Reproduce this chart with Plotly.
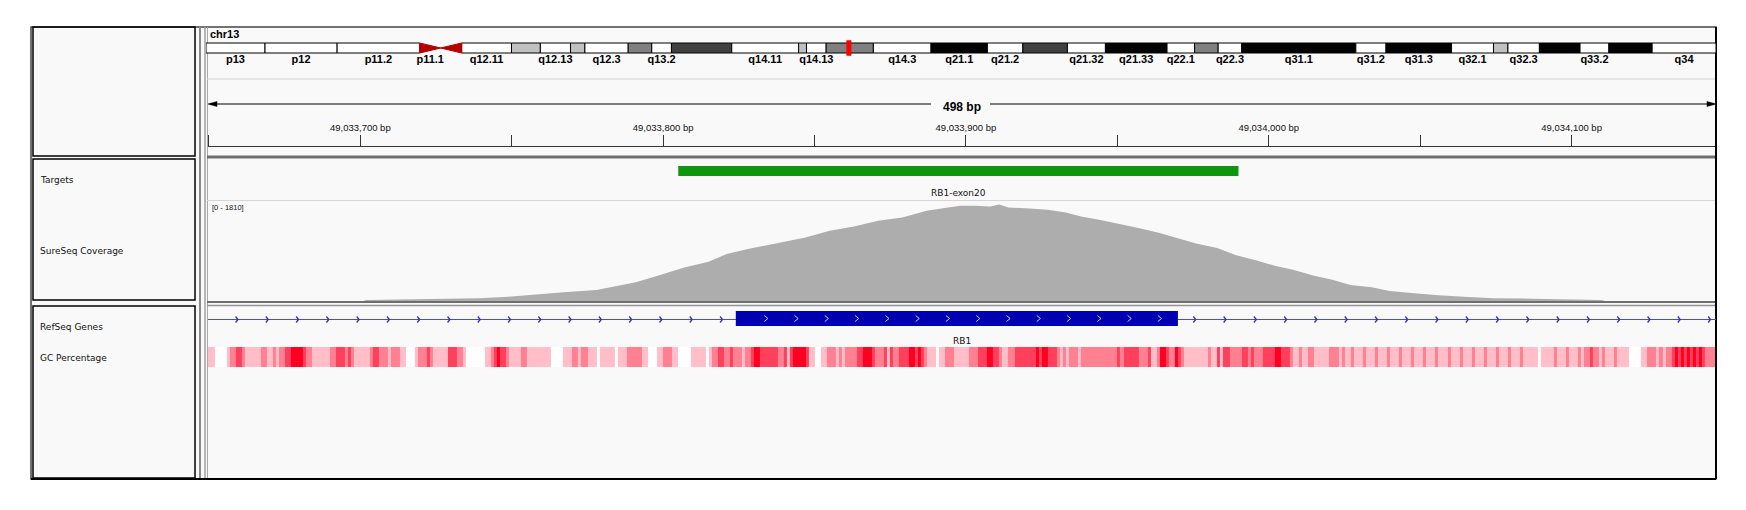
import plotly.graph_objects as go

W, H = 1746, 510

# ---- locus ----
chrom = "chr13"
chrom_len_mb = 115.169878
view_start = 49033649.7
view_end = 49034147.7

# ---- cytobands (Mb) ----
band_name = ["p13", "p12", "p11.2", "p11.1", "q11", "q12.11", "q12.12", "q12.13", "q12.2", "q12.3",
             "q13.1", "q13.2", "q13.3", "q14.11", "q14.12", "q14.13", "q14.2", "q14.3", "q21.1", "q21.2",
             "q21.31", "q21.32", "q21.33", "q22.1", "q22.2", "q22.3", "q31.1", "q31.2", "q31.3", "q32.1",
             "q32.2", "q32.3", "q33.1", "q33.2", "q33.3", "q34"]
band_start = [0.0, 4.5, 10.0, 16.3, 17.9, 19.5, 23.3, 25.5, 27.8, 28.9,
              32.2, 34.0, 35.5, 40.1, 45.2, 45.8, 47.3, 50.9, 55.3, 59.6,
              62.3, 65.7, 68.6, 73.3, 75.4, 77.2, 79.0, 87.7, 90.0, 95.0,
              98.2, 99.3, 101.7, 104.8, 107.0, 110.3]
band_stain = ["gvar", "stalk", "gvar", "acen", "acen", "gneg", "gpos25", "gneg", "gpos25", "gneg",
              "gpos50", "gneg", "gpos75", "gneg", "gpos25", "gneg", "gpos50", "gneg", "gpos100", "gneg",
              "gpos75", "gneg", "gpos100", "gneg", "gpos50", "gneg", "gpos100", "gneg", "gpos100", "gneg",
              "gpos25", "gneg", "gpos100", "gneg", "gpos100", "gneg"]
band_labels_shown = ["p13", "p12", "p11.2", "p11.1", "q12.11", "q12.13", "q12.3", "q13.2", "q14.11",
                     "q14.13", "q14.3", "q21.1", "q21.2", "q21.32", "q21.33", "q22.1", "q22.3", "q31.1",
                     "q31.2", "q31.3", "q32.1", "q32.3", "q33.2", "q34"]
band_end = band_start[1:] + [chrom_len_mb]

# ---- ruler ----
tick_pos = list(range(49033650, 49034150, 50))

# ---- targets ----
target_name = "RB1-exon20"
target_start = 49033805
target_end = 49033990

# ---- coverage ----
cov_max = 1810
cov_pos = [49033650, 49033701, 49033702, 49033729, 49033739, 49033749, 49033759, 49033767, 49033778,
           49033785, 49033791, 49033799, 49033807, 49033815, 49033821, 49033828, 49033839, 49033847,
           49033855, 49033863, 49033871, 49033879, 49033887, 49033898, 49033903, 49033908, 49033911,
           49033914, 49033921, 49033927, 49033933, 49033938, 49033944, 49033951, 49033957, 49033964,
           49033970, 49033976, 49033983, 49033989, 49033996, 49034002, 49034008, 49034015, 49034021,
           49034027, 49034034, 49034040, 49034048, 49034056, 49034066, 49034074, 49034087, 49034096,
           49034106, 49034110, 49034111, 49034148]
cov_depth = [0, 0, 18, 36, 48, 78, 114, 156, 198,
             276, 336, 467, 605, 707, 845, 935, 1055, 1145,
             1265, 1343, 1444, 1504, 1624, 1714, 1714, 1700, 1738,
             1684, 1666, 1642, 1594, 1522, 1462, 1385, 1313, 1223,
             1133, 1037, 953, 827, 731, 635, 563, 455, 384,
             288, 246, 180, 138, 102, 72, 48, 42, 30,
             24, 20, 0, 0]

# ---- RefSeq gene ----
gene_name = "RB1"
exon_start = 49033824
exon_end = 49033970
intron_arrow_first = [49033659.2, 49033975.5]
exon_chevron_first = 49033834
arrow_step = 10

# ---- GC percentage (offset from 49033650, level 0-4) ----
gc_origin = 49033650
gc_start = [-1, 2, 6, 7, 9, 11, 12, 17, 19, 21, 22, 23, 25, 27, 31, 32, 34, 40, 42, 45, 46, 47, 48, 53, 54,
            56, 59, 60, 63, 65, 68, 69, 72, 73, 74, 79, 82, 84, 85, 91, 93, 94, 95, 96, 98, 99, 103, 105,
            113, 117, 120, 122, 123, 125, 128, 129, 134, 135, 138, 143, 145, 148, 150, 153, 155, 159, 164,
            165, 166, 168, 170, 172, 173, 176, 177, 179, 180, 182, 188, 190, 191, 192, 193, 197, 198, 200,
            202, 204, 207, 208, 209, 210, 214, 216, 219, 220, 223, 224, 225, 226, 228, 231, 233, 234, 235,
            236, 237, 240, 241, 243, 246, 251, 254, 257, 259, 261, 262, 264, 266, 273, 274, 275, 277, 280,
            281, 282, 283, 284, 287, 288, 300, 301, 302, 307, 310, 311, 313, 314, 316, 317, 319, 320, 321,
            322, 330, 331, 333, 334, 335, 337, 341, 343, 344, 345, 348, 352, 354, 357, 358, 360, 361, 363,
            365, 370, 373, 374, 375, 377, 378, 381, 382, 385, 386, 389, 390, 393, 394, 397, 398, 401, 402,
            405, 406, 409, 410, 413, 414, 417, 418, 421, 422, 425, 426, 429, 430, 433, 434, 439, 440, 444,
            445, 448, 449, 452, 453, 454, 456, 457, 459, 460, 461, 464, 465, 469, 473, 475, 478, 479, 480,
            481, 483, 484, 485, 486, 487, 488, 489, 490, 491, 492, 493, 494]
gc_level = [1, 0, 1, 2, 3, 2, 1, 2, 1, 2, 1, 2, 3, 4, 3, 2, 1, 2, 3, 2, 3, 2, 1, 2, 3,
            2, 1, 2, 1, 0, 1, 2, 3, 2, 1, 3, 2, 1, 0, 1, 2, 3, 4, 3, 2, 1, 2, 1,
            0, 1, 2, 1, 2, 1, 0, 1, 0, 1, 2, 1, 0, 1, 2, 1, 0, 1, 0,
            1, 2, 3, 2, 3, 2, 1, 2, 3, 4, 3, 2, 3, 1, 3, 4, 3, 1, 0,
            1, 2, 1, 2, 1, 2, 3, 4, 3, 2, 3, 1, 3, 2, 3, 4, 3, 4, 3,
            2, 1, 0, 1, 2, 1, 2, 3, 4, 3, 2, 1, 2, 3, 4, 3, 4, 3, 2,
            1, 2, 1, 2, 1, 2, 3, 2, 3, 2, 3, 1, 2, 4, 3, 2, 4, 3, 2,
            1, 2, 1, 3, 1, 3, 2, 3, 2, 3, 2, 3, 4, 3, 2, 1, 2, 1, 2,
            1, 2, 1, 2, 1, 2, 1, 2, 1, 2, 1, 2, 1, 2, 1, 2, 1, 2, 1,
            2, 1, 2, 1, 2, 1, 2, 1, 2, 1, 2, 1, 2, 1, 2, 1, 0, 1, 2,
            1, 2, 1, 2, 1, 2, 3, 2, 1, 2, 1, 2, 1, 0, 1, 2, 1, 2, 1,
            2, 3, 4, 3, 4, 3, 4, 3, 4, 3, 4, 3, 2]
gc_end = 499

track_names = ["Targets", "SureSeq Coverage", "RefSeq Genes", "GC Percentage"]

stain_color = {"gneg": "#ffffff", "gvar": "#ffffff", "stalk": "#ffffff", "gpos25": "#c0c0c0",
               "gpos50": "#808080", "gpos75": "#404040", "gpos100": "#000000"}
gc_colors = ["#ffffff", "#ffbec8", "#ff8090", "#ff405c", "#ff0020"]


def xp(v):
    return v / W


def yp(v):
    return 1 - v / H


shapes = []


def rect(x0, y0, x1, y1, xref="paper", **kw):
    sx0, sx1 = (xp(x0), xp(x1)) if xref == "paper" else (x0, x1)
    shapes.append(dict(type="rect", xref=xref, yref="paper", x0=sx0, x1=sx1, y0=yp(y1), y1=yp(y0), **kw))


def line(x0, y0, x1, y1, color, width, xref="paper"):
    sx0, sx1 = (xp(x0), xp(x1)) if xref == "paper" else (x0, x1)
    shapes.append(dict(type="line", xref=xref, yref="paper", x0=sx0, x1=sx1, y0=yp(y0), y1=yp(y1),
                       line=dict(color=color, width=width)))


# frame
rect(31, 27, 1716, 479, fillcolor="#f9f9f9", line=dict(color="#444444", width=1.5), layer="below")
for top, bot in [(27, 156), (159, 300), (306, 478)]:
    rect(33, top, 195, bot, line=dict(color="#000000", width=1.5))
line(200, 27, 200, 479, "#8a8a8a", 2)
line(205, 27, 205, 479, "#a0a0a0", 1.5)
line(207.5, 27, 207.5, 479, "#a8a8a8", 1)
line(207, 79, 1716, 79, "#d0d0d0", 1)
line(207, 157, 1716, 157, "#6e6e6e", 3)
line(207, 200.5, 1716, 200.5, "#d6d6d6", 1)
line(207, 302, 1716, 302, "#6e6e6e", 2)
line(207, 305.5, 1716, 305.5, "#939393", 1.5)
line(1716, 27, 1716, 479, "#000000", 2)
line(31, 479, 1716, 479, "#000000", 2)

# ideogram
for s, e, st in zip(band_start, band_end, band_stain):
    if st == "acen":
        continue
    rect(s, 43, e, 53, xref="x2", fillcolor=stain_color[st], line=dict(color="#000000", width=1))
acen = [(s, e) for s, e, st in zip(band_start, band_end, band_stain) if st == "acen"]
(p_s, cen), (_, q_e) = acen
shapes.append(dict(type="path", xref="x2", yref="paper",
                   path=f"M {p_s},{yp(43)} L {p_s},{yp(53)} L {cen},{yp(48)} Z",
                   fillcolor="#b40000", line=dict(color="#b40000", width=1)))
shapes.append(dict(type="path", xref="x2", yref="paper",
                   path=f"M {q_e},{yp(43)} L {q_e},{yp(53)} L {cen},{yp(48)} Z",
                   fillcolor="#b40000", line=dict(color="#b40000", width=1)))
locus_mb = (view_start + view_end) / 2 / 1e6
rect(locus_mb - 0.17, 40.5, locus_mb + 0.17, 55.5, xref="x2", fillcolor="#ff0000",
     line=dict(color="#ff0000", width=0.5))

# ruler arrow
line(210, 104, 931, 104, "#000000", 1)
line(990, 104, 1714, 104, "#000000", 1)
shapes.append(dict(type="path", xref="paper", yref="paper",
                   path=f"M {xp(208)},{yp(104)} L {xp(217)},{yp(101.5)} L {xp(217)},{yp(106.5)} Z",
                   fillcolor="#000000", line=dict(color="#000000", width=0.5)))
shapes.append(dict(type="path", xref="paper", yref="paper",
                   path=f"M {xp(1716)},{yp(104)} L {xp(1707)},{yp(101.5)} L {xp(1707)},{yp(106.5)} Z",
                   fillcolor="#000000", line=dict(color="#000000", width=0.5)))

# target
rect(target_start, 166, target_end, 176, xref="x", fillcolor="#0f960f", line=dict(width=0))

# gene
line(view_start, 319.5, view_end, 319.5, "#4b4bd6", 1.2, xref="x")
rect(exon_start, 311, exon_end, 326, xref="x", fillcolor="#0000b2", line=dict(width=0))
arrows = []
p = intron_arrow_first[0]
while p < exon_start:
    arrows.append(p)
    p += arrow_step
p = intron_arrow_first[1]
while p < view_end:
    arrows.append(p)
    p += arrow_step
for p in arrows:
    shapes.append(dict(type="path", xref="x", yref="paper",
                       path=f"M {p - 0.4},{yp(316.5)} L {p + 0.4},{yp(319.5)} L {p - 0.4},{yp(322.5)}",
                       line=dict(color="#3030cc", width=1.3)))
p = exon_chevron_first
while p < exon_end - 4:
    shapes.append(dict(type="path", xref="x", yref="paper",
                       path=f"M {p - 0.6},{yp(315.5)} L {p + 0.6},{yp(318.5)} L {p - 0.6},{yp(321.5)}",
                       line=dict(color="#c8c8ff", width=1)))
    p += arrow_step

fig = go.Figure()

# coverage
fig.add_trace(go.Scatter(x=cov_pos, y=cov_depth, mode="lines", fill="tozeroy",
                         line=dict(width=0, color="#adadad"), fillcolor="#adadad",
                         hoverinfo="skip", showlegend=False, xaxis="x", yaxis="y"))

# GC percentage
gc_edges = [gc_origin + s for s in gc_start] + [gc_origin + gc_end]
cs = []
for k, c in enumerate(gc_colors):
    cs.append([max(0, (k - 0.5) / 4), c])
    cs.append([min(1, (k + 0.5) / 4), c])
fig.add_trace(go.Heatmap(x=gc_edges, y=[347, 367], z=[gc_level], zmin=0, zmax=4, colorscale=cs,
                         showscale=False, hoverinfo="skip", xaxis="x", yaxis="y4"))

# band labels
shown = [(n, (s + e) / 2) for n, s, e in zip(band_name, band_start, band_end) if n in band_labels_shown]
fig.add_trace(go.Scatter(x=[m for _, m in shown], y=[60] * len(shown), text=[n for n, _ in shown],
                         mode="text", textposition="middle center",
                         textfont=dict(family="Liberation Sans", size=11, color="#000000", weight="bold"),
                         hoverinfo="skip", showlegend=False, xaxis="x2", yaxis="y4"))

ann = []


def label(x, y, text, size=9, xref="paper", xanchor="left", family="DejaVu Sans", color="#111111"):
    ann.append(dict(x=xp(x) if xref == "paper" else x, y=yp(y), xref=xref, yref="paper", text=text,
                    showarrow=False, xanchor=xanchor, yanchor="middle",
                    font=dict(size=size, family=family, color=color)))


label(208, 34.5, f"<b>{chrom}</b>", size=11, family="Liberation Sans", color="#000000")
label((view_start + view_end) / 2, 106.5, f"<b>{round(view_end - view_start)} bp</b>", size=12,
      xref="x", xanchor="center", family="Liberation Sans", color="#000000")
label((target_start + target_end) / 2, 193, target_name, size=9, xref="x", xanchor="center")
label(210, 207, f"[0 - {cov_max}]", size=7.5, family="Liberation Sans")
label((view_start + view_end) / 2, 341, gene_name, size=9, xref="x", xanchor="center")
for name, y in zip(track_names, [180, 251, 327, 357.5]):
    label(38, y, name, size=9)

fig.update_layout(
    width=W, height=H, margin=dict(l=0, r=0, t=0, b=0),
    paper_bgcolor="#ffffff", plot_bgcolor="rgba(0,0,0,0)",
    font=dict(family="DejaVu Sans"),
    showlegend=False, shapes=shapes, annotations=ann,
    xaxis=dict(domain=[xp(208), xp(1716)], range=[view_start, view_end], side="top", anchor="free",
               position=yp(146), showline=True, linecolor="#333333", linewidth=1.2,
               ticks="outside", ticklen=11, tickwidth=1, tickcolor="#333333",
               tickvals=tick_pos, ticktext=[f"{v:,} bp" if v % 100 == 0 else "" for v in tick_pos],
               tickfont=dict(size=9.5, family="Liberation Sans", color="#111111"),
               showgrid=False, zeroline=False, fixedrange=True),
    yaxis=dict(domain=[yp(301), yp(200.5)], range=[0, cov_max], visible=False, anchor="x", fixedrange=True),
    yaxis4=dict(domain=[0, 1], range=[H, 0], visible=False, anchor="x", fixedrange=True),
    xaxis2=dict(domain=[xp(206), xp(1716)], range=[0, chrom_len_mb], visible=False, anchor="y4",
                fixedrange=True),
)

fig.write_html("out.html", config={"displayModeBar": False},
               post_script="document.body.style.margin='0';")
